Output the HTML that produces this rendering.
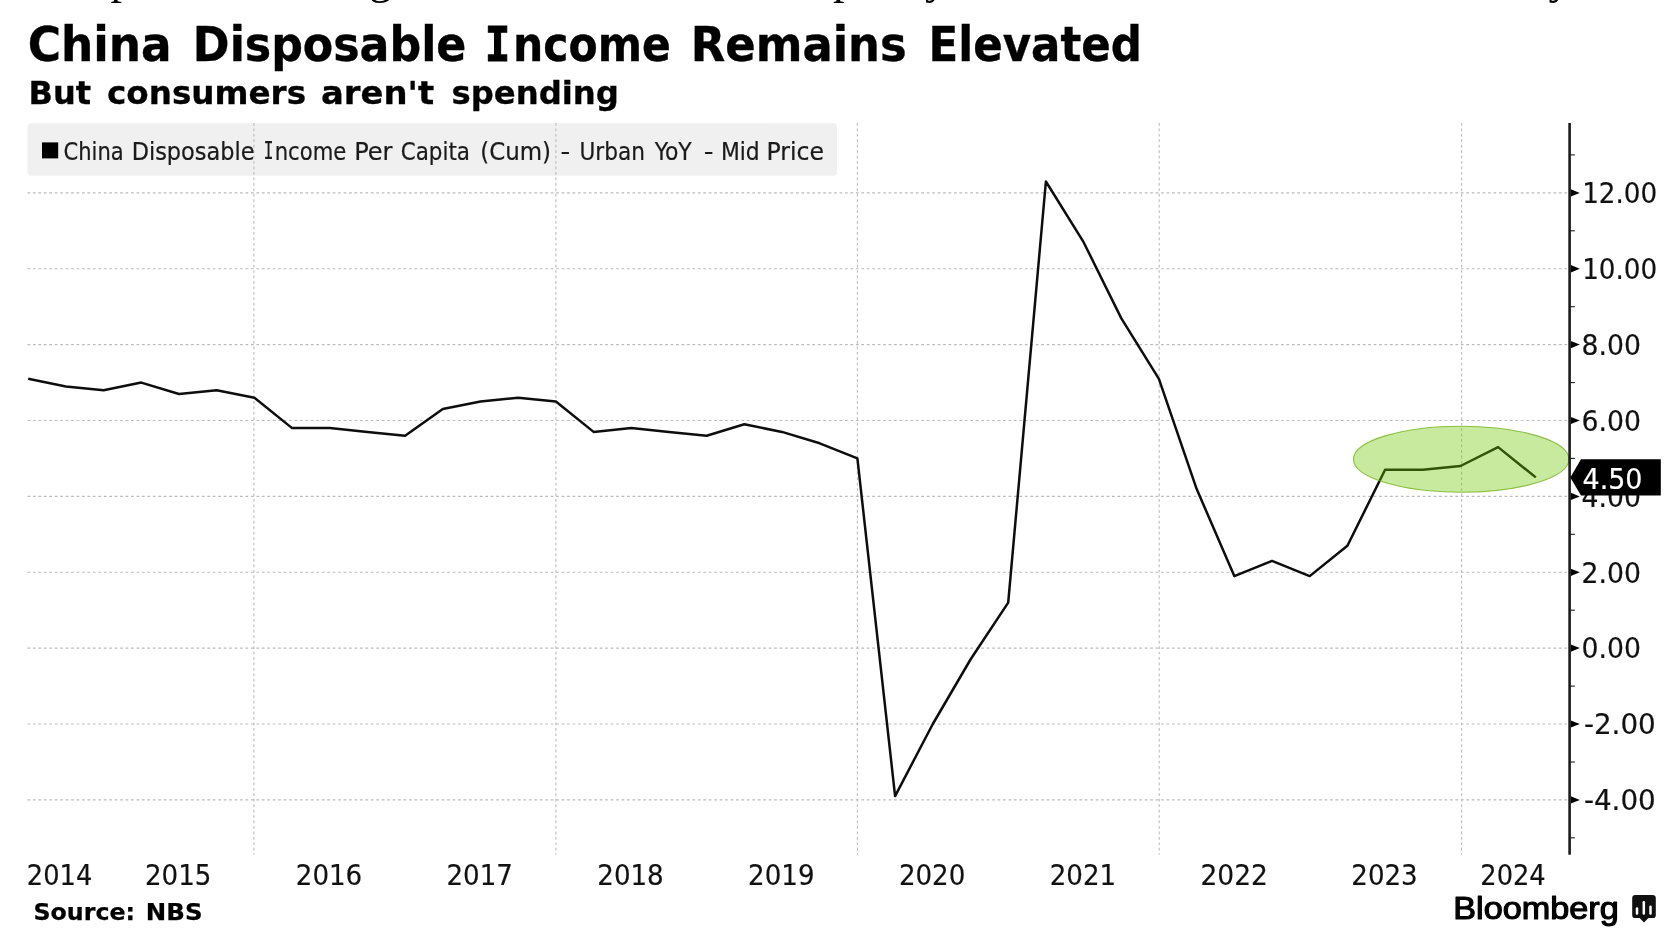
<!DOCTYPE html>
<html lang="en"><head><meta charset="utf-8"><title>China Disposable Income Remains Elevated</title>
<style>
html,body{margin:0;padding:0;background:#fff}
body{width:1679px;height:950px;overflow:hidden;position:relative}
svg{position:absolute;left:0;top:0;display:block;will-change:transform}
text{white-space:pre}
.title{font:bold 47.5px 'DejaVu Sans Condensed','DejaVu Sans','Liberation Sans',sans-serif;stroke:#000;stroke-width:.35px}
.titleI{font:bold 47.5px 'DejaVu Sans Mono','Liberation Mono',monospace;stroke:#000;stroke-width:1.1px}
.sub{font:bold 32px 'DejaVu Sans','Liberation Sans',sans-serif;stroke:#000;stroke-width:.3px}
.legend{font:24px 'DejaVu Sans Condensed','DejaVu Sans','Liberation Sans',sans-serif;fill:#1a1a1a;stroke:#1a1a1a;stroke-width:.2px}
.legendI{font:24px 'DejaVu Sans Mono','Liberation Mono',monospace;fill:#1a1a1a}
.xlab,.ylab{font:29px 'DejaVu Sans Condensed','DejaVu Sans','Liberation Sans',sans-serif;fill:#111;stroke:#111;stroke-width:.2px}
.flag{font:29px 'DejaVu Sans Condensed','DejaVu Sans','Liberation Sans',sans-serif;fill:#fff;stroke:#fff;stroke-width:.2px}
.source{font:bold 22.5px 'DejaVu Sans','Liberation Sans',sans-serif;stroke:#000;stroke-width:.25px}
.bbg{font:31.8px 'Liberation Sans','DejaVu Sans',sans-serif;stroke:#000;stroke-width:1.15px;stroke-linejoin:round}
.lead{position:absolute;top:-45.0px;will-change:transform;font:46px/46px 'Liberation Serif','DejaVu Serif',serif;color:#000;white-space:nowrap}
</style></head><body>
<span class="lead" style="left:39px">Despite a</span>
<span class="lead" style="left:276.5px">strong</span>
<span class="lead" style="left:548px">income,</span>
<span class="lead" style="left:833px">policy</span>
<span class="lead" style="left:1403px">economy</span>
<svg width="1679" height="950" viewBox="0 0 1679 950">
<rect x="27.5" y="123.2" width="809.5" height="52.5" rx="4" fill="#f0f0f0"/>
<g stroke="#bbb" stroke-width="1.1" stroke-dasharray="2.7 2.75" fill="none"><line x1="27.5" x2="1568.3" y1="192.9" y2="192.9"/><line x1="27.5" x2="1568.3" y1="268.8" y2="268.8"/><line x1="27.5" x2="1568.3" y1="344.6" y2="344.6"/><line x1="27.5" x2="1568.3" y1="420.5" y2="420.5"/><line x1="27.5" x2="1568.3" y1="496.4" y2="496.4"/><line x1="27.5" x2="1568.3" y1="572.3" y2="572.3"/><line x1="27.5" x2="1568.3" y1="648.1" y2="648.1"/><line x1="27.5" x2="1568.3" y1="724.0" y2="724.0"/><line x1="27.5" x2="1568.3" y1="799.9" y2="799.9"/><line x1="253.9" x2="253.9" y1="123" y2="854.7"/><line x1="555.9" x2="555.9" y1="123" y2="854.7"/><line x1="857.4" x2="857.4" y1="123" y2="854.7"/><line x1="1159.2" x2="1159.2" y1="123" y2="854.7"/><line x1="1461.6" x2="1461.6" y1="123" y2="854.7"/></g>
<rect x="42" y="142.4" width="16.2" height="16" fill="#000"/>
<polyline points="28.2,378.8 65.9,386.4 103.6,390.2 141.3,382.6 179.0,394.0 216.7,390.2 254.4,397.7 292.1,428.1 329.8,428.1 367.4,431.9 405.1,435.7 442.8,409.1 480.5,401.5 518.2,397.7 555.9,401.5 593.6,431.9 631.3,428.1 669.0,431.9 706.7,435.7 744.3,424.3 782.0,431.9 819.7,443.3 857.4,458.4 895.1,796.1 932.8,724.0 970.5,659.5 1008.2,602.6 1045.9,181.5 1083.6,242.2 1121.2,318.1 1158.9,378.8 1196.6,488.8 1234.3,576.1 1272.0,560.9 1309.7,576.1 1347.4,545.7 1385.1,469.8 1422.8,469.8 1460.5,466.0 1498.1,447.1 1535.8,477.4" fill="none" stroke="#0d0d0d" stroke-width="2.5" stroke-linejoin="round" stroke-linecap="butt"/>
<ellipse cx="1461.2" cy="459.2" rx="107.7" ry="33" fill="rgba(110,200,0,0.38)" stroke="rgba(110,175,20,0.75)" stroke-width="1.1"/>
<rect x="1568.3" y="123" width="2.6" height="731.7" fill="#1c1c1c"/>
<g fill="#000"><path d="M1570.8 189.3L1579.8 192.9L1570.8 196.5Z"/><path d="M1570.8 265.1L1579.8 268.8L1570.8 272.4Z"/><path d="M1570.8 341.0L1579.8 344.6L1570.8 348.2Z"/><path d="M1570.8 416.9L1579.8 420.5L1570.8 424.1Z"/><path d="M1570.8 492.8L1579.8 496.4L1570.8 500.0Z"/><path d="M1570.8 568.7L1579.8 572.3L1570.8 575.9Z"/><path d="M1570.8 644.5L1579.8 648.1L1570.8 651.8Z"/><path d="M1570.8 720.4L1579.8 724.0L1570.8 727.6Z"/><path d="M1570.8 796.3L1579.8 799.9L1570.8 803.5Z"/></g>
<g stroke="#1c1c1c" stroke-width="1.1"><line x1="1569.6" x2="1574.8" y1="154.9" y2="154.9"/><line x1="1569.6" x2="1574.8" y1="230.8" y2="230.8"/><line x1="1569.6" x2="1574.8" y1="306.7" y2="306.7"/><line x1="1569.6" x2="1574.8" y1="382.6" y2="382.6"/><line x1="1569.6" x2="1574.8" y1="458.4" y2="458.4"/><line x1="1569.6" x2="1574.8" y1="534.3" y2="534.3"/><line x1="1569.6" x2="1574.8" y1="610.2" y2="610.2"/><line x1="1569.6" x2="1574.8" y1="686.1" y2="686.1"/><line x1="1569.6" x2="1574.8" y1="762.0" y2="762.0"/><line x1="1569.6" x2="1574.8" y1="837.8" y2="837.8"/></g>
<g class="logo">
<path d="M1635.4 895h17.2a3.2 3.2 0 0 1 3.2 3.2v16.7a3.2 3.2 0 0 1 -3.2 3.2h-4.2l-4.4 4.4l-4.4-4.4h-4.2a3.2 3.2 0 0 1 -3.2-3.2v-16.7a3.2 3.2 0 0 1 3.2-3.2z" fill="#111"/>
<g stroke="#fff" stroke-width="2.5" stroke-linecap="round"><line x1="1637" x2="1637" y1="908.6" y2="913.4"/><line x1="1643.8" x2="1643.8" y1="902.2" y2="913.4"/><line x1="1650.5" x2="1650.5" y1="906.8" y2="913.4"/></g>
</g>
<text class="title" x="27.68" y="61.10" textLength="144.03" lengthAdjust="spacingAndGlyphs">China</text>
<text class="title" x="192.89" y="61.10" textLength="273.47" lengthAdjust="spacingAndGlyphs">Disposable</text>
<text class="title"><tspan class="titleI" x="484.81" y="61.10" textLength="25.61" lengthAdjust="spacingAndGlyphs">I</tspan><tspan x="513.12" y="61.10" textLength="157.76" lengthAdjust="spacingAndGlyphs">ncome</tspan></text>
<text class="title" x="690.75" y="61.10" textLength="215.86" lengthAdjust="spacingAndGlyphs">Remains</text>
<text class="title" x="928.54" y="61.10" textLength="213.50" lengthAdjust="spacingAndGlyphs">Elevated</text>
<text class="sub" x="28.50" y="104.30" textLength="62.55" lengthAdjust="spacingAndGlyphs">But</text>
<text class="sub" x="106.98" y="104.30" textLength="199.09" lengthAdjust="spacingAndGlyphs">consumers</text>
<text class="sub" x="320.94" y="104.30" textLength="113.12" lengthAdjust="spacingAndGlyphs">aren't</text>
<text class="sub" x="451.49" y="104.30" textLength="167.43" lengthAdjust="spacingAndGlyphs">spending</text>
<text class="legend" x="63.52" y="159.50" textLength="60.18" lengthAdjust="spacingAndGlyphs">China</text>
<text class="legend" x="131.67" y="159.50" textLength="122.88" lengthAdjust="spacingAndGlyphs">Disposable</text>
<text class="legend"><tspan class="legendI" x="263.60" y="159.40" textLength="10.11" lengthAdjust="spacingAndGlyphs">I</tspan><tspan x="274.72" y="159.50" textLength="71.51" lengthAdjust="spacingAndGlyphs">ncome</tspan></text>
<text class="legend" x="354.17" y="159.50" textLength="38.29" lengthAdjust="spacingAndGlyphs">Per</text>
<text class="legend" x="400.76" y="159.50" textLength="69.21" lengthAdjust="spacingAndGlyphs">Capita</text>
<text class="legend" x="480.19" y="159.50" textLength="70.83" lengthAdjust="spacingAndGlyphs">(Cum)</text>
<text class="legend" x="560.50" y="159.50" textLength="9.74" lengthAdjust="spacingAndGlyphs">-</text>
<text class="legend" x="579.50" y="159.50" textLength="65.44" lengthAdjust="spacingAndGlyphs">Urban</text>
<text class="legend" x="654.76" y="159.50" textLength="36.91" lengthAdjust="spacingAndGlyphs">YoY</text>
<text class="legend" x="703.75" y="159.50" textLength="9.74" lengthAdjust="spacingAndGlyphs">-</text>
<text class="legend" x="720.98" y="159.50" textLength="38.75" lengthAdjust="spacingAndGlyphs">Mid</text>
<text class="legend" x="766.56" y="159.50" textLength="57.50" lengthAdjust="spacingAndGlyphs">Price</text>
<text class="xlab" x="26.87" y="884.50" textLength="65.37" lengthAdjust="spacingAndGlyphs">2014</text>
<text class="xlab" x="145.00" y="884.50" textLength="66.40" lengthAdjust="spacingAndGlyphs">2015</text>
<text class="xlab" x="295.80" y="884.50" textLength="66.40" lengthAdjust="spacingAndGlyphs">2016</text>
<text class="xlab" x="446.50" y="884.50" textLength="66.40" lengthAdjust="spacingAndGlyphs">2017</text>
<text class="xlab" x="597.30" y="884.50" textLength="66.40" lengthAdjust="spacingAndGlyphs">2018</text>
<text class="xlab" x="748.10" y="884.50" textLength="66.40" lengthAdjust="spacingAndGlyphs">2019</text>
<text class="xlab" x="898.90" y="884.50" textLength="66.40" lengthAdjust="spacingAndGlyphs">2020</text>
<text class="xlab" x="1049.70" y="884.50" textLength="66.40" lengthAdjust="spacingAndGlyphs">2021</text>
<text class="xlab" x="1200.48" y="884.50" textLength="67.45" lengthAdjust="spacingAndGlyphs">2022</text>
<text class="xlab" x="1351.30" y="884.50" textLength="66.40" lengthAdjust="spacingAndGlyphs">2023</text>
<text class="xlab" x="1480.32" y="884.50" textLength="65.37" lengthAdjust="spacingAndGlyphs">2024</text>
<text class="ylab" x="1582.19" y="203.17" textLength="75.01" lengthAdjust="spacingAndGlyphs">12.00</text>
<text class="ylab" x="1582.19" y="279.05" textLength="75.01" lengthAdjust="spacingAndGlyphs">10.00</text>
<text class="ylab" x="1581.58" y="354.93" textLength="59.35" lengthAdjust="spacingAndGlyphs">8.00</text>
<text class="ylab" x="1581.58" y="430.81" textLength="59.35" lengthAdjust="spacingAndGlyphs">6.00</text>
<text class="ylab" x="1581.58" y="506.69" textLength="59.35" lengthAdjust="spacingAndGlyphs">4.00</text>
<text class="ylab" x="1581.58" y="582.57" textLength="59.35" lengthAdjust="spacingAndGlyphs">2.00</text>
<text class="ylab" x="1581.58" y="658.45" textLength="59.35" lengthAdjust="spacingAndGlyphs">0.00</text>
<text class="ylab" x="1583.94" y="734.33" textLength="71.76" lengthAdjust="spacingAndGlyphs">-2.00</text>
<text class="ylab" x="1583.94" y="810.21" textLength="71.76" lengthAdjust="spacingAndGlyphs">-4.00</text>
<path d="M1570.3 477.4L1581 459.2H1660.8V495.6H1581Z" fill="#000"/>
<text class="flag" x="1582.57" y="488.80" textLength="59.88" lengthAdjust="spacingAndGlyphs">4.50</text>
<text class="source" x="33.45" y="919.50" textLength="101.66" lengthAdjust="spacingAndGlyphs">Source:</text>
<text class="source" x="145.83" y="919.50" textLength="56.73" lengthAdjust="spacingAndGlyphs">NBS</text>
<text class="bbg" x="1453.25" y="918.70" textLength="165.46" lengthAdjust="spacingAndGlyphs">Bloomberg</text>
</svg>
</body></html>
